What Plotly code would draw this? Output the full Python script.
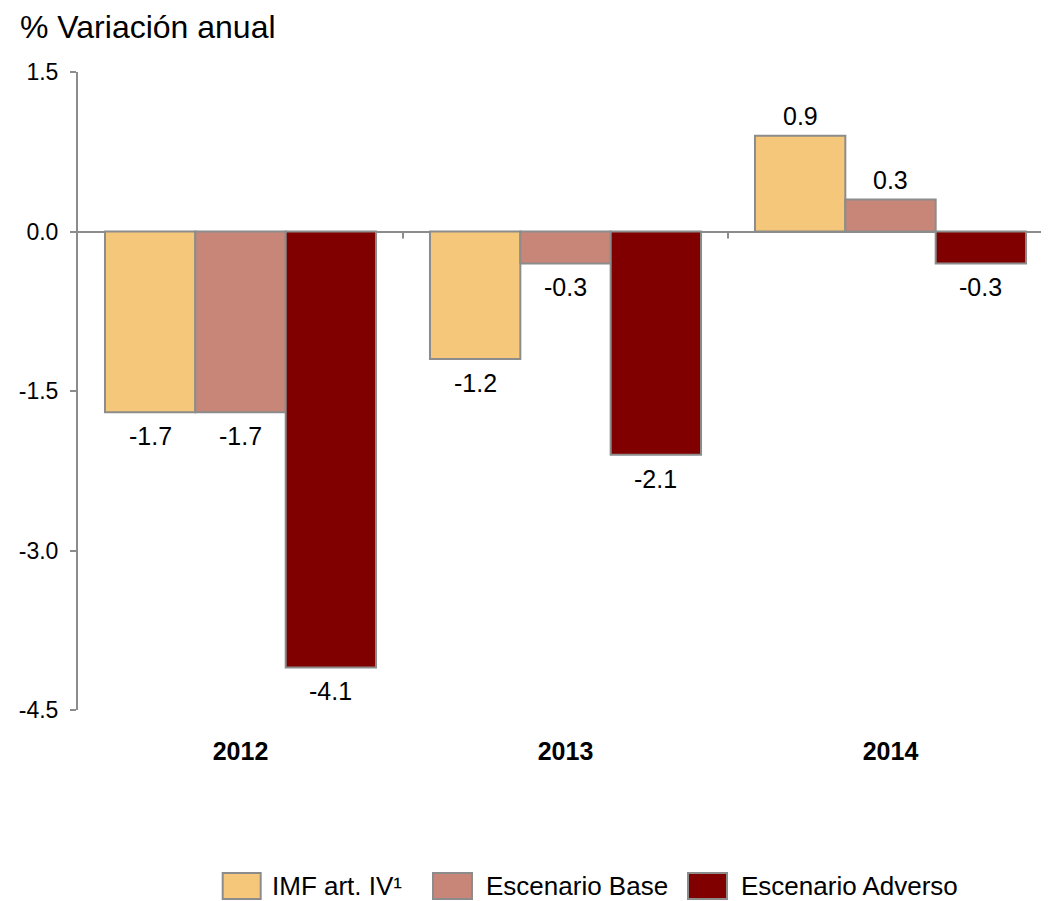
import plotly.graph_objects as go

# ---- data ----
years = ["2012", "2013", "2014"]
imf_art_iv = [-1.7, -1.2, 0.9]
escenario_base = [-1.7, -0.3, 0.3]
escenario_adverso = [-4.1, -2.1, -0.3]
series_names = ["IMF art. IV¹", "Escenario Base", "Escenario Adverso"]
y_tick_vals = [1.5, 0.0, -1.5, -3.0, -4.5]
y_tick_text = ["1.5", "0.0", "-1.5", "-3.0", "-4.5"]

colors = ["#F4C77B", "#C78677", "#800000"]
outline = "#8C8C8C"
FONT = "Liberation Sans, Arial, sans-serif"

# page has an 8px body margin, so the figure is drawn 8px smaller and offset
OFF = 8
W, H = 1049 - OFF, 901 - OFF
L, T, R = 78 - OFF, 72 - OFF, 0
PW, PH = W - L - R, 638
B = H - T - PH
BARGAP = 0.166

x_idx = list(range(len(years)))
all_series = [imf_art_iv, escenario_base, escenario_adverso]

fig = go.Figure()
for name, vals, col in zip(series_names, all_series, colors):
    fig.add_trace(go.Bar(
        x=x_idx, y=vals, name=name,
        marker=dict(color=col, line=dict(color=outline, width=2)),
        showlegend=False,
    ))

# value labels placed at the bar ends
bw = (1 - BARGAP) / len(all_series)
for i, vals in enumerate(all_series):
    for j, v in enumerate(vals):
        fig.add_annotation(
            x=j + (i - (len(all_series) - 1) / 2) * bw, y=v, xref="x", yref="y",
            text=f"{v:.1f}", showarrow=False, xanchor="center", yanchor="middle",
            yshift=20 if v >= 0 else -24,
            font=dict(family=FONT, size=25, color="black"),
        )

# category boundary ticks on the zero line
for b in [0.5, 1.5]:
    fig.add_shape(type="line", xref="x", yref="y", x0=b, x1=b,
                  ysizemode="pixel", yanchor=0, y0=0, y1=-7,
                  line=dict(color=outline, width=2))

# custom legend (pixel layout helpers, reference pixel coords)
def px_x(p):
    return (p - OFF - L) / PW

def px_y(p):
    return (T + PH - (p - OFF)) / PH

legend_items = [(222.7, 260.7, 270), (433, 472, 484), (688, 727, 739)]
for (sx0, sx1, tx), name, col in zip(legend_items, series_names, colors):
    fig.add_shape(type="rect", xref="paper", yref="paper",
                  x0=px_x(sx0), x1=px_x(sx1), y0=px_y(899), y1=px_y(873),
                  fillcolor=col, line=dict(color=outline, width=2))
    fig.add_annotation(xref="paper", yref="paper", x=px_x(tx), y=px_y(886),
                       xanchor="left", yanchor="middle", text=name, showarrow=False,
                       font=dict(family=FONT, size=26, color="black"))

fig.update_layout(
    width=W, height=H,
    margin=dict(l=L, r=R, t=T, b=B, autoexpand=False),
    paper_bgcolor="white", plot_bgcolor="white",
    barmode="group", bargap=BARGAP, bargroupgap=0,
    font=dict(family=FONT, color="black"),
    title=dict(text="% Variación anual", x=(20 - OFF) / W, xanchor="left",
               y=1 - (27 - OFF) / H, yanchor="middle",
               font=dict(family=FONT, size=32, color="black")),
    xaxis=dict(
        range=[-0.5, -0.5 + PW / 325], tickvals=x_idx, ticktext=[f"<b>{y}</b>" for y in years],
        showline=False, showgrid=False, zeroline=False, ticks="",
        tickfont=dict(family=FONT, size=25, color="black"),
        ticklabelstandoff=24, automargin=False,
    ),
    yaxis=dict(
        range=[-4.5, 1.5], tickvals=y_tick_vals, ticktext=y_tick_text,
        showline=True, linecolor=outline, linewidth=2,
        ticks="outside", ticklen=6, tickcolor=outline, tickwidth=2,
        showgrid=False, zeroline=True, zerolinecolor=outline, zerolinewidth=2,
        tickfont=dict(family=FONT, size=23, color="black"),
        ticklabelstandoff=7, automargin=False,
    ),
)

fig.write_html("out.html")
